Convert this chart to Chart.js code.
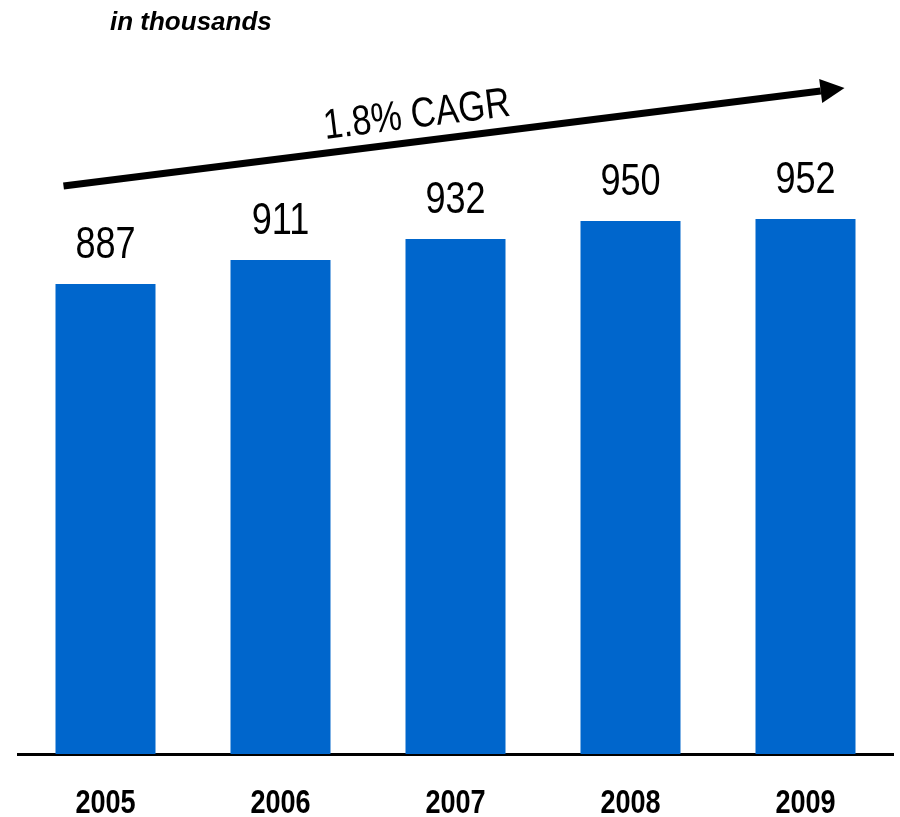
<!DOCTYPE html>
<html lang="en">
<head>
    <meta charset="UTF-8">
    <title>in thousands</title>
    <script src="https://cdn.jsdelivr.net/npm/chart.js"></script>
    <style>
        body { margin: 0; background: #fff; }
        canvas { display: block; }
    </style>
</head>
<body>
    <canvas id="chart" width="900" height="817"></canvas>
    <script>
        const years = ['2005', '2006', '2007', '2008', '2009'];
        const values = [887, 911, 932, 950, 952];
        const unitNote = 'in thousands';
        const growthNote = '1.8% CAGR';

        const sans = '"Liberation Sans", Arial, sans-serif';
        const squeeze = 0.82; // no narrow font installed, so squash text horizontally

        function narrowText(ctx, text, x, y) {
            ctx.save();
            ctx.translate(x, y);
            ctx.scale(squeeze, 1);
            ctx.fillText(text, 0, 0);
            ctx.restore();
        }

        // value labels, year labels, arrow and notes
        const extras = {
            id: 'extras',
            afterDraw(chart) {
                const ctx = chart.ctx;
                const x = chart.scales.x;
                const area = chart.chartArea;
                const meta = chart.getDatasetMeta(0);
                ctx.save();

                ctx.fillStyle = '#000';
                ctx.textAlign = 'center';
                ctx.textBaseline = 'alphabetic';
                ctx.font = '44px ' + sans;
                meta.data.forEach((bar, i) => {
                    narrowText(ctx, String(values[i]), bar.x, bar.y - 26);
                });

                ctx.font = 'bold 33px ' + sans;
                years.forEach((yr, i) => {
                    narrowText(ctx, yr, x.getPixelForValue(i), area.bottom + 59);
                });

                // growth arrow
                const x0 = x.getPixelForValue(0) - 42, y0 = area.top + 15;
                const x1 = x.getPixelForValue(years.length - 1) + 39, y1 = area.top - 83;
                const ang = Math.atan2(y1 - y0, x1 - x0);
                const headLen = 24, headW = 12;
                const bx = x1 - headLen * Math.cos(ang), by = y1 - headLen * Math.sin(ang);
                ctx.strokeStyle = '#000';
                ctx.lineWidth = 7;
                ctx.beginPath();
                ctx.moveTo(x0, y0);
                ctx.lineTo(bx, by);
                ctx.stroke();
                ctx.beginPath();
                ctx.moveTo(x1, y1);
                ctx.lineTo(bx + headW * Math.sin(ang), by - headW * Math.cos(ang));
                ctx.lineTo(bx - headW * Math.sin(ang), by + headW * Math.cos(ang));
                ctx.closePath();
                ctx.fill();

                const t = (420 - x0) / (x1 - x0);
                const cx = x0 + t * (x1 - x0), cy = y0 + t * (y1 - y0);
                ctx.save();
                ctx.translate(cx, cy);
                ctx.rotate(ang);
                ctx.font = '42px ' + sans;
                narrowText(ctx, growthNote, 0, -14);
                ctx.restore();

                ctx.font = 'italic bold 26px ' + sans;
                ctx.textAlign = 'left';
                ctx.fillText(unitNote, 110, 30);
                ctx.restore();
            }
        };

        new Chart(document.getElementById('chart'), {
            type: 'bar',
            data: {
                labels: years,
                datasets: [{
                    data: values,
                    backgroundColor: '#0066CC',
                    categoryPercentage: 1,
                    barPercentage: 100 / 175
                }]
            },
            options: {
                responsive: false,
                animation: false,
                layout: { padding: { left: 18, right: 7, top: 171, bottom: 63 } },
                plugins: { legend: { display: false }, tooltip: { enabled: false } },
                scales: {
                    x: {
                        grid: { display: false, drawTicks: false },
                        border: { display: true, color: '#000', width: 3 },
                        ticks: { display: false }
                    },
                    y: {
                        display: false,
                        min: 417,
                        max: 1000
                    }
                }
            },
            plugins: [extras]
        });
    </script>
</body>
</html>
